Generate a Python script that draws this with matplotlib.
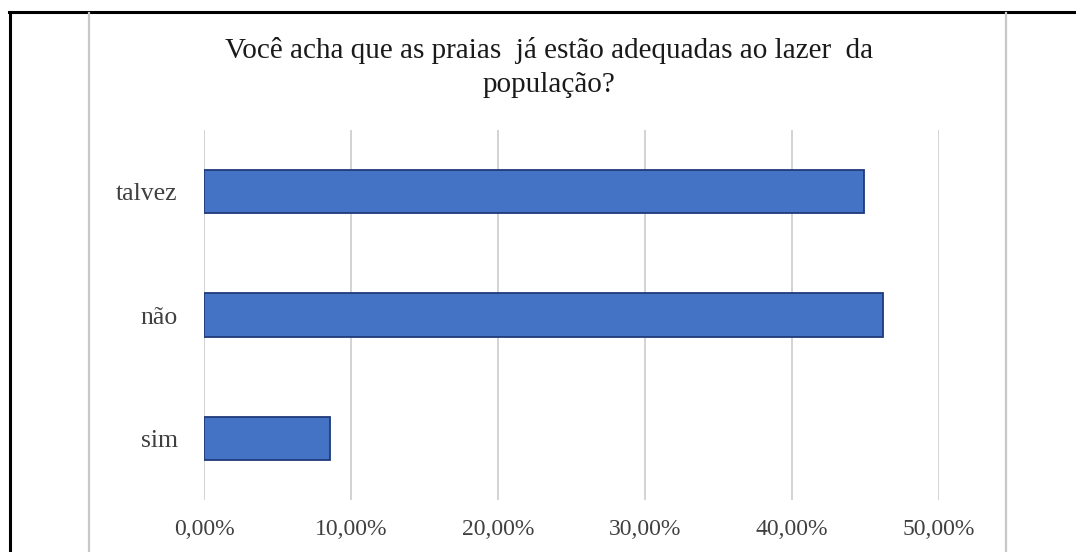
import matplotlib.pyplot as plt
from matplotlib.lines import Line2D
from matplotlib.ticker import FuncFormatter

# dados
categorias = ['sim', 'não', 'talvez']
valores = [0.086, 0.462, 0.449]
ticks = [0.0, 0.1, 0.2, 0.3, 0.4, 0.5]
titulo = 'Você acha que as praias  já estão adequadas ao lazer  da\npopulação?'

plt.rcParams['font.family'] = ['Liberation Serif', 'DejaVu Serif']

fig = plt.figure(figsize=(10.76, 5.52), dpi=100)
ax = fig.add_axes([204 / 1076, 1 - 500 / 552, 735 / 1076, 370 / 552])

ax.barh(range(len(categorias)), valores, height=0.35, color='#4472C4',
        edgecolor='#1F3A7A', linewidth=1.3, zorder=3)

ax.set_xlim(0, 0.5)
ax.set_ylim(-0.5, len(categorias) - 0.5)
ax.set_xticks(ticks)
ax.xaxis.set_major_formatter(FuncFormatter(lambda v, p: ('%.2f%%' % (v * 100)).replace('.', ',')))
ax.set_yticks(range(len(categorias)))
ax.set_yticklabels(categorias)
ax.grid(axis='x', color='#D0D0D0', linewidth=1.3, zorder=0)
for s in ax.spines.values():
    s.set_visible(False)
ax.tick_params(axis='both', length=0, labelcolor='#404040')
ax.tick_params(axis='x', pad=14, labelsize=17)
ax.tick_params(axis='y', pad=19, labelsize=18.5)

fig.text(549 / 1076, 1 - 68 / 552, titulo, ha='center', va='center',
         fontsize=21, color='#1a1a1a', linespacing=1.4)

# moldura
W, H = 1076, 552
fig.add_artist(Line2D([9 / W, 1], [1 - 12 / H] * 2, color='black', linewidth=2.2, transform=fig.transFigure))
fig.add_artist(Line2D([9.5 / W] * 2, [0, 1 - 12 / H], color='black', linewidth=2.2, transform=fig.transFigure))
for xp in [89, 1006]:
    fig.add_artist(Line2D([xp / W] * 2, [0, 1 - 13 / H], color='#C8C8C8', linewidth=1.6, transform=fig.transFigure))

fig.savefig('out.png', dpi=100)
